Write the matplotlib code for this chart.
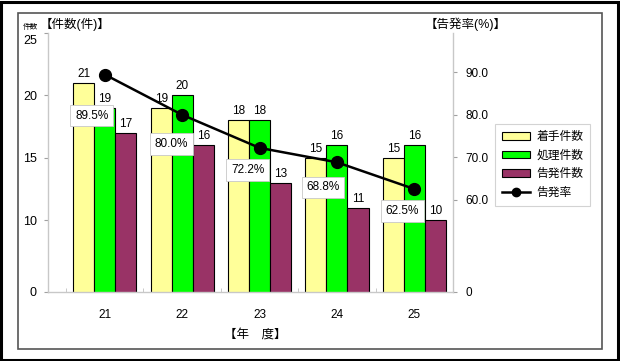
import matplotlib
matplotlib.use("Agg")
import matplotlib.pyplot as plt
from matplotlib.patches import Rectangle
from matplotlib.lines import Line2D
from matplotlib.transforms import ScaledTranslation
import numpy as np

plt.rcParams['font.family'] = ['Liberation Sans', 'Noto Sans CJK JP', 'DejaVu Sans']

years = ["21", "22", "23", "24", "25"]
chakushu = [21, 19, 18, 15, 15]
shori = [19, 20, 18, 16, 16]
kokuhatsu = [17, 16, 13, 11, 10]
rate = [89.5, 80.0, 72.2, 68.8, 62.5]
rate_labels = ["89.5%", "80.0%", "72.2%", "68.8%", "62.5%"]
series_names = ["着手件数", "処理件数", "告発件数", "告発率"]

left_ticks = ["0", "10", "15", "20", "25"]
right_ticks = ["0", "60.0", "70.0", "80.0", "90.0"]

W, H = 620, 361
fig = plt.figure(figsize=(W / 100, H / 100), dpi=100)

# frames
fig.add_artist(Rectangle((1 / W, 1 / H), 617 / W, 358 / H, transform=fig.transFigure,
                         fill=False, edgecolor='black', linewidth=2.2))
fig.add_artist(Rectangle((18 / W, 1 - 349 / H), 584 / W, 336 / H, transform=fig.transFigure,
                         fill=False, edgecolor='#555555', linewidth=1.2))

ax = fig.add_axes([48 / W, 1 - 292 / H, 405 / W, 259 / H])
ax2 = ax.twinx()

x = np.arange(len(years))
bw = 0.272
colors = ['#FFFF99', '#00FF00', '#993366']
for off, vals, c in zip([-bw, 0, bw], [chakushu, shori, kokuhatsu], colors):
    ax.bar(x + off, vals, width=bw, color=c, edgecolor='black', linewidth=0.8, zorder=2)
    for xi, v in zip(x + off, vals):
        ax.annotate(str(v), (xi, v), xytext=(0, 3), textcoords='offset pixels',
                    ha='center', va='bottom', fontsize=8.5)

ymin = 4.23
ax.set_ylim(ymin, 25)
ax.set_xlim(-0.734, 4.39)
ax.set_yticks([ymin, 10, 15, 20, 25])
ax.set_yticklabels(left_ticks, fontsize=9)
ax.tick_params(axis='y', length=3, color='#a0a0a0', pad=5)
top_lab = ax.get_yticklabels()[-1]
top_lab.set_transform(top_lab.get_transform() + ScaledTranslation(0, -6 / 100, fig.dpi_scale_trans))

ax.set_xticks(x)
ax.set_xticklabels(years, fontsize=8.5)
ax.tick_params(axis='x', length=0, pad=12)
ax.set_xticks(np.arange(-0.5, 4.6, 1.0), minor=True)
ax.tick_params(axis='x', which='minor', length=3, color='#c0c0c0', direction='in')

ax.spines['top'].set_visible(False)
ax2.spines['top'].set_visible(False)
for sp in [ax.spines['left'], ax.spines['bottom'], ax2.spines['right']]:
    sp.set_color('#c8c8c8')
    sp.set_linewidth(1.0)
ax2.spines['left'].set_visible(False)
ax2.spines['bottom'].set_visible(False)
ax.spines['right'].set_visible(False)

rmin = 38.2
ax2.set_ylim(rmin, 99.3)
ax2.set_yticks([rmin, 60, 70, 80, 90])
ax2.set_yticklabels(right_ticks, fontsize=8.5)
ax2.tick_params(axis='y', length=3, color='#a0a0a0', pad=6)

ax2.plot(x, rate, color='black', linewidth=1.8, marker='o', markersize=8.5, zorder=5)
offsets = [(-13, -41), (-11, -29), (-12, -22), (-14, -25), (-12, -22)]
for xi, r, lab, (dx, dy) in zip(x, rate, rate_labels, offsets):
    ax2.annotate(lab, (xi, r), xytext=(dx, dy), textcoords='offset pixels',
                 ha='center', va='center', fontsize=8.5,
                 bbox=dict(boxstyle='square,pad=0.4', facecolor='white', edgecolor='#c8c8c8', linewidth=0.6))

# titles
fig.text(40 / W, 1 - 24 / H, "【件数(件)】", fontsize=9, ha='left', va='center')
fig.text(30 / W, 1 - 27 / H, "件数", fontsize=5.5, ha='center', va='center')
fig.text(466 / W, 1 - 24 / H, "【告発率(%)】", fontsize=9, ha='center', va='center')
fig.text(255 / W, 1 - 335 / H, "【年　度】", fontsize=9, ha='center', va='center')

# legend
handles = [Rectangle((0, 0), 1, 1, facecolor=c, edgecolor='black', linewidth=0.8) for c in colors]
handles.append(Line2D([0], [0], color='black', linewidth=1.8, marker='o', markersize=6))
leg = fig.legend(handles, series_names, loc='upper left', bbox_to_anchor=(489 / W, 1 - 118 / H),
                 fontsize=8.5, frameon=True, fancybox=False, edgecolor='#c8c8c8',
                 handlelength=2.4, handleheight=0.6, labelspacing=0.55, borderpad=0.6,
                 handletextpad=0.5)
leg.get_frame().set_linewidth(0.8)

fig.savefig("out.png", dpi=100)
